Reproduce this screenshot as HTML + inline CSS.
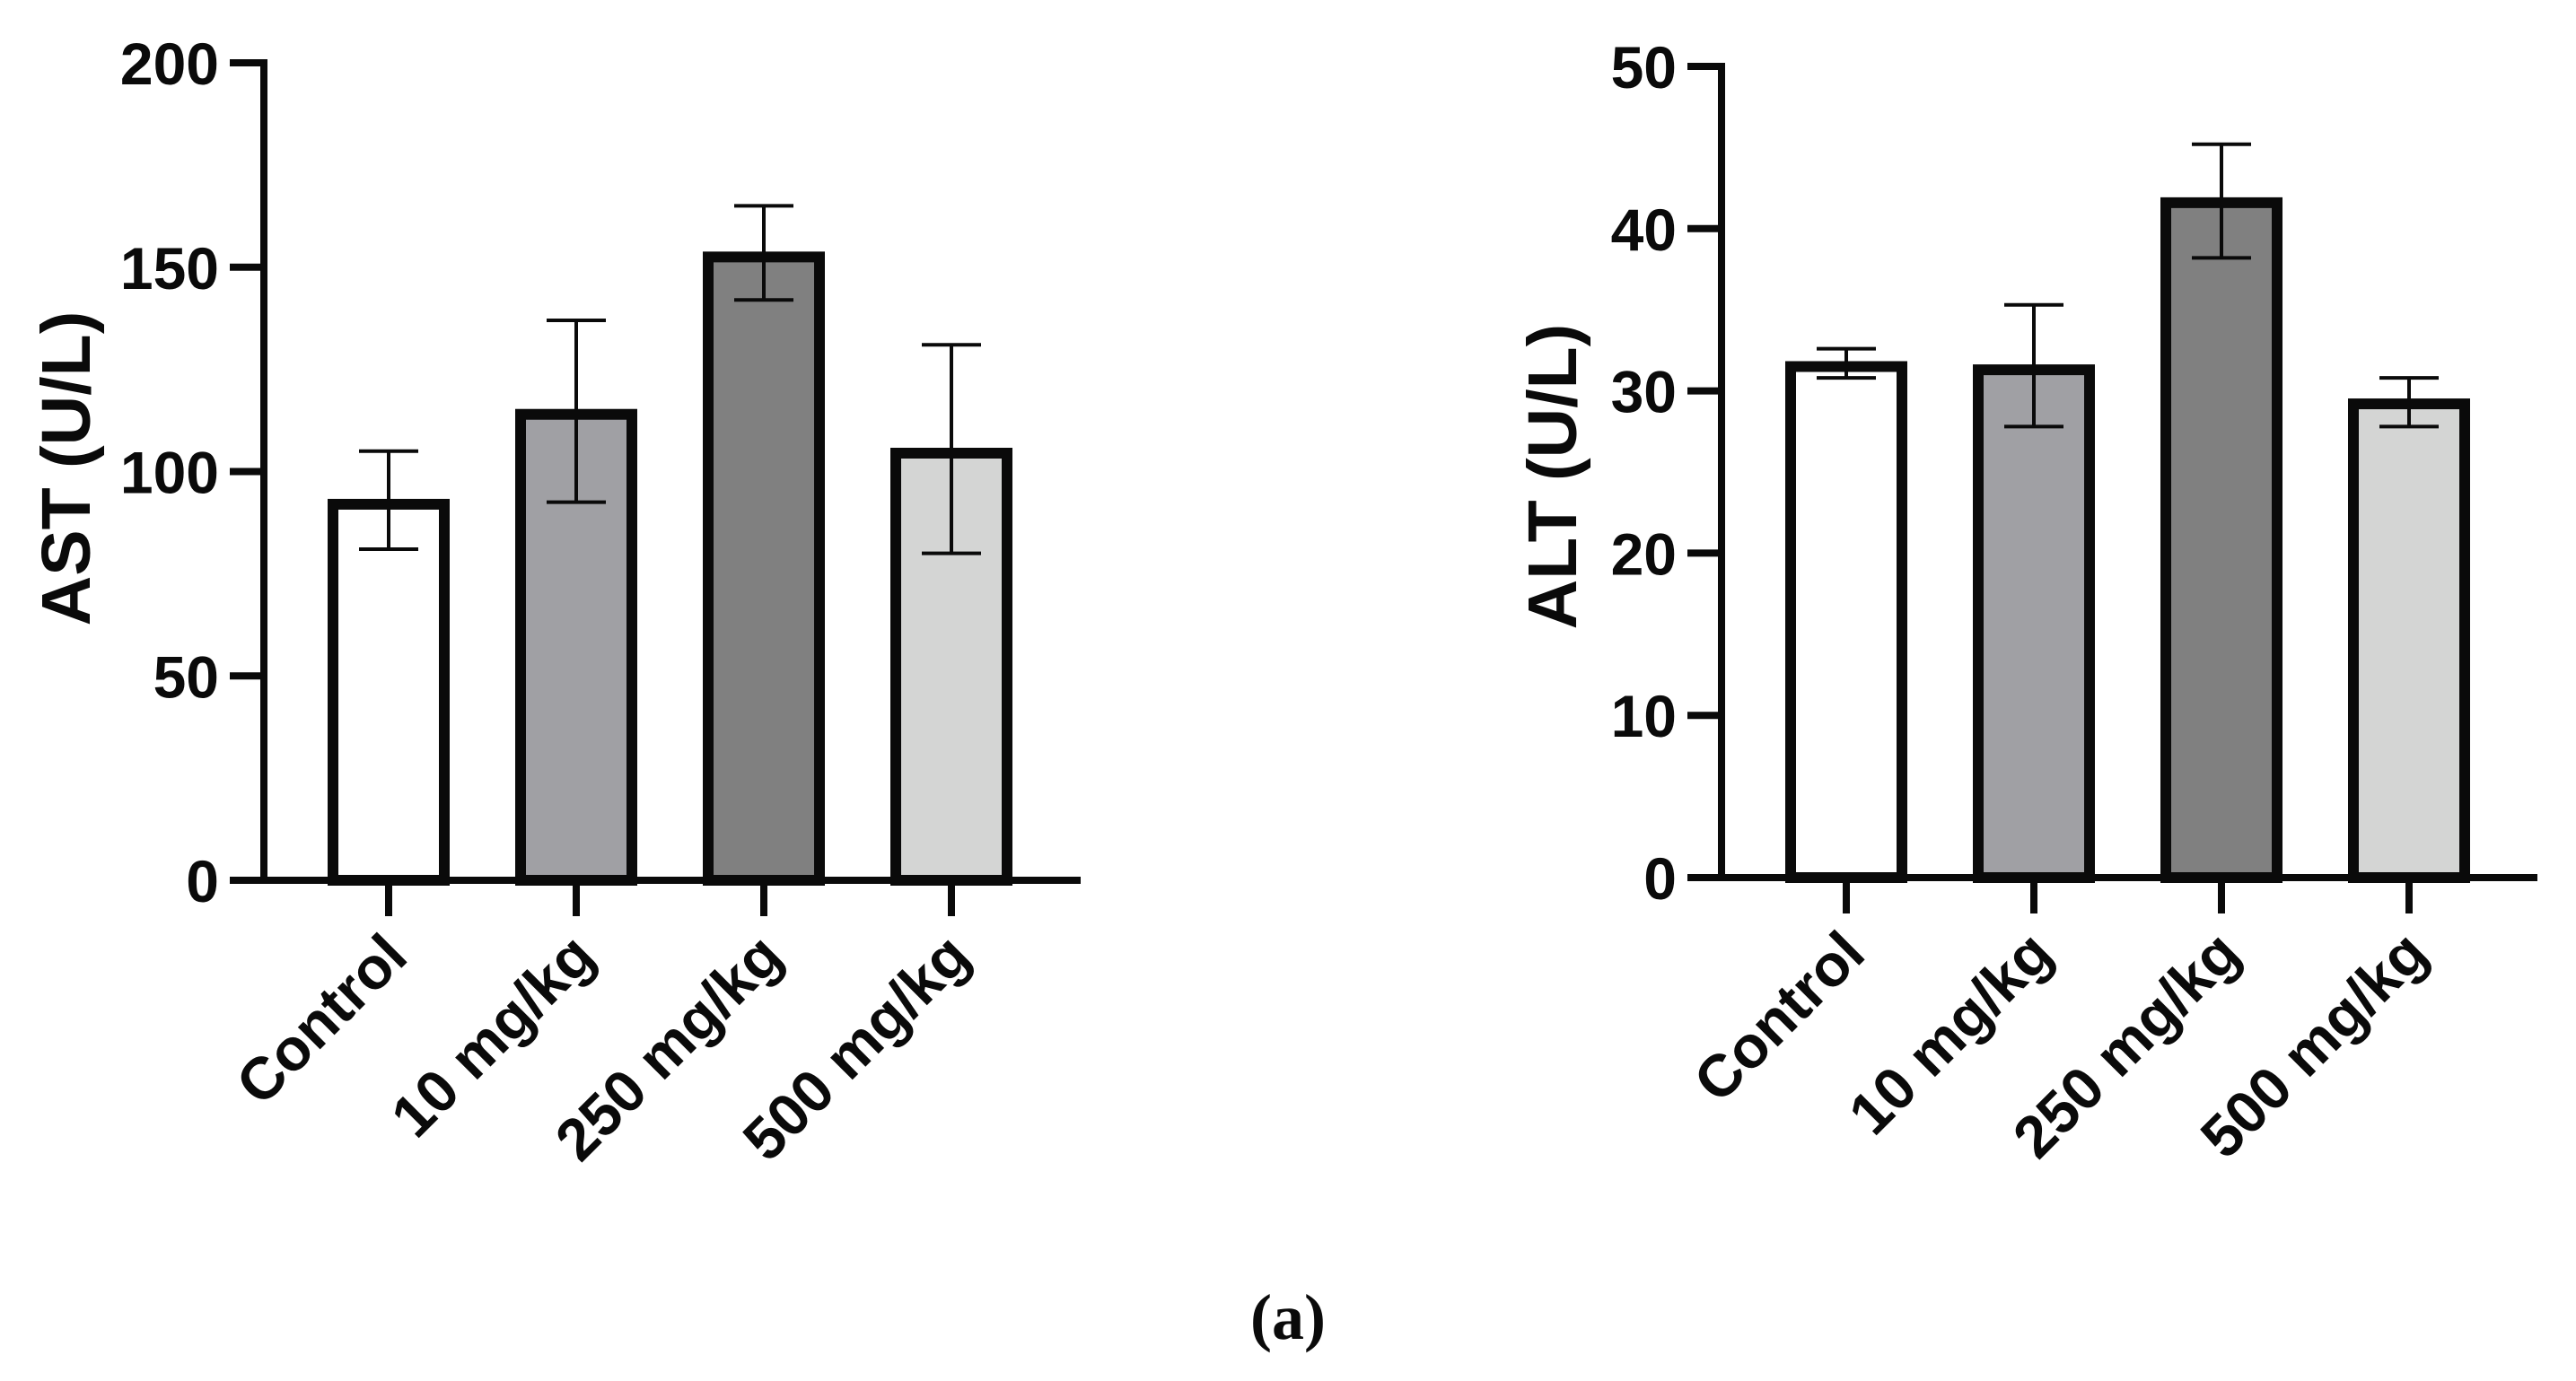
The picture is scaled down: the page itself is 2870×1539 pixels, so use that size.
<!DOCTYPE html>
<html><head><meta charset="utf-8"><style>
html,body{margin:0;padding:0;background:#fff;}
svg{display:block;}
text{font-family:"Liberation Sans",Arial,sans-serif;font-weight:bold;fill:#0a0a0a;}
</style></head><body>
<svg id="fig" width="2870" height="1539" viewBox="0 0 2870 1539" xmlns="http://www.w3.org/2000/svg">
<text x="1435" y="1492" text-anchor="middle" style="font-family:'Liberation Serif',serif;font-size:72px;font-weight:bold">(a)</text>
</svg>
<script>
const categories = ["Control","10 mg/kg","250 mg/kg","500 mg/kg"];
const astMeans = [92, 114, 152.5, 104.5];
const astUpper = [105, 137, 165, 131];
const astLower = [81, 92.5, 142, 80];
const astTicks = [0, 50, 100, 150, 200];
const altMeans = [31.5, 31.3, 41.6, 29.2];
const altUpper = [32.6, 35.3, 45.2, 30.8];
const altLower = [30.8, 27.8, 38.2, 27.8];
const altTicks = [0, 10, 20, 30, 40, 50];
const fills = ["#ffffff","#a0a0a4","#808080","#d4d5d4"];

const NS = "http://www.w3.org/2000/svg";
const svg = document.getElementById('fig');
function mk(tag, attrs, parent){
  const e = document.createElementNS(NS, tag);
  for (const k in attrs) e.setAttribute(k, attrs[k]);
  (parent||svg).appendChild(e);
  return e;
}
function chart(prefix, cfg, means, upper, lower, ticks, title){
  const g = mk('g', {});
  
  
  const yMax = ticks[ticks.length-1];
  const y = v => cfg.y0 - (v / yMax) * (cfg.y0 - cfg.yTop);
  const x = i => cfg.x0 + i * cfg.step;
  means.forEach((m, i) => {
    const r = mk('rect', {x: x(i) - 62, y: y(m), width: 124, height: cfg.y0 - y(m), fill: fills[i], stroke: '#0a0a0a', 'stroke-width': 12}, g);
    
    
  });
  means.forEach((m, i) => {
    const eg = mk('g', {stroke: '#0a0a0a', 'stroke-width': 4}, g);
    
    
    mk('line', {x1: x(i), x2: x(i), y1: y(upper[i]), y2: y(lower[i])}, eg);
    mk('line', {x1: x(i) - 33, x2: x(i) + 33, y1: y(upper[i]), y2: y(upper[i])}, eg);
    mk('line', {x1: x(i) - 33, x2: x(i) + 33, y1: y(lower[i]), y2: y(lower[i])}, eg);
  });
  const ax = mk('g', {stroke: '#0a0a0a', 'stroke-width': 8, fill: 'none'}, g);
  
  
  mk('line', {x1: cfg.ax, x2: cfg.ax, y1: cfg.yTop - 4, y2: cfg.y0 + 4}, ax);
  mk('line', {x1: cfg.ax - 38, x2: cfg.xEnd, y1: cfg.y0, y2: cfg.y0}, ax);
  ticks.forEach(t => {
    mk('line', {x1: cfg.ax - 38, x2: cfg.ax, y1: y(t), y2: y(t)}, ax);
    const tl = mk('text', {x: cfg.ax - 50, y: y(t) + 24, 'text-anchor': 'end', 'font-size': 66}, g);
    tl.textContent = t;
    
    
  });
  categories.forEach((c, i) => {
    mk('line', {x1: x(i), x2: x(i), y1: cfg.y0, y2: cfg.y0 + 40}, ax);
    const lx = x(i) + 24, ly = cfg.y0 + 88;
    const tl = mk('text', {x: lx, y: ly, 'text-anchor': 'end', 'font-size': 66, transform: 'rotate(-45 ' + lx + ' ' + ly + ')'}, g);
    tl.textContent = c;
    
    
  });
  const tt = mk('text', {x: cfg.titleX, y: cfg.titleY, 'text-anchor': 'middle', 'font-size': 77, transform: 'rotate(-90 ' + cfg.titleX + ' ' + cfg.titleY + ')'}, g);
  tt.textContent = title;
  
  
}
chart('ast', {ax: 294, y0: 981, yTop: 70, x0: 433, step: 209, xEnd: 1204, titleX: 100, titleY: 522}, astMeans, astUpper, astLower, astTicks, 'AST (U/L)');
chart('alt', {ax: 1918, y0: 978, yTop: 74, x0: 2057, step: 209, xEnd: 2827, titleX: 1756, titleY: 531}, altMeans, altUpper, altLower, altTicks, 'ALT (U/L)');
</script>
</body></html>
